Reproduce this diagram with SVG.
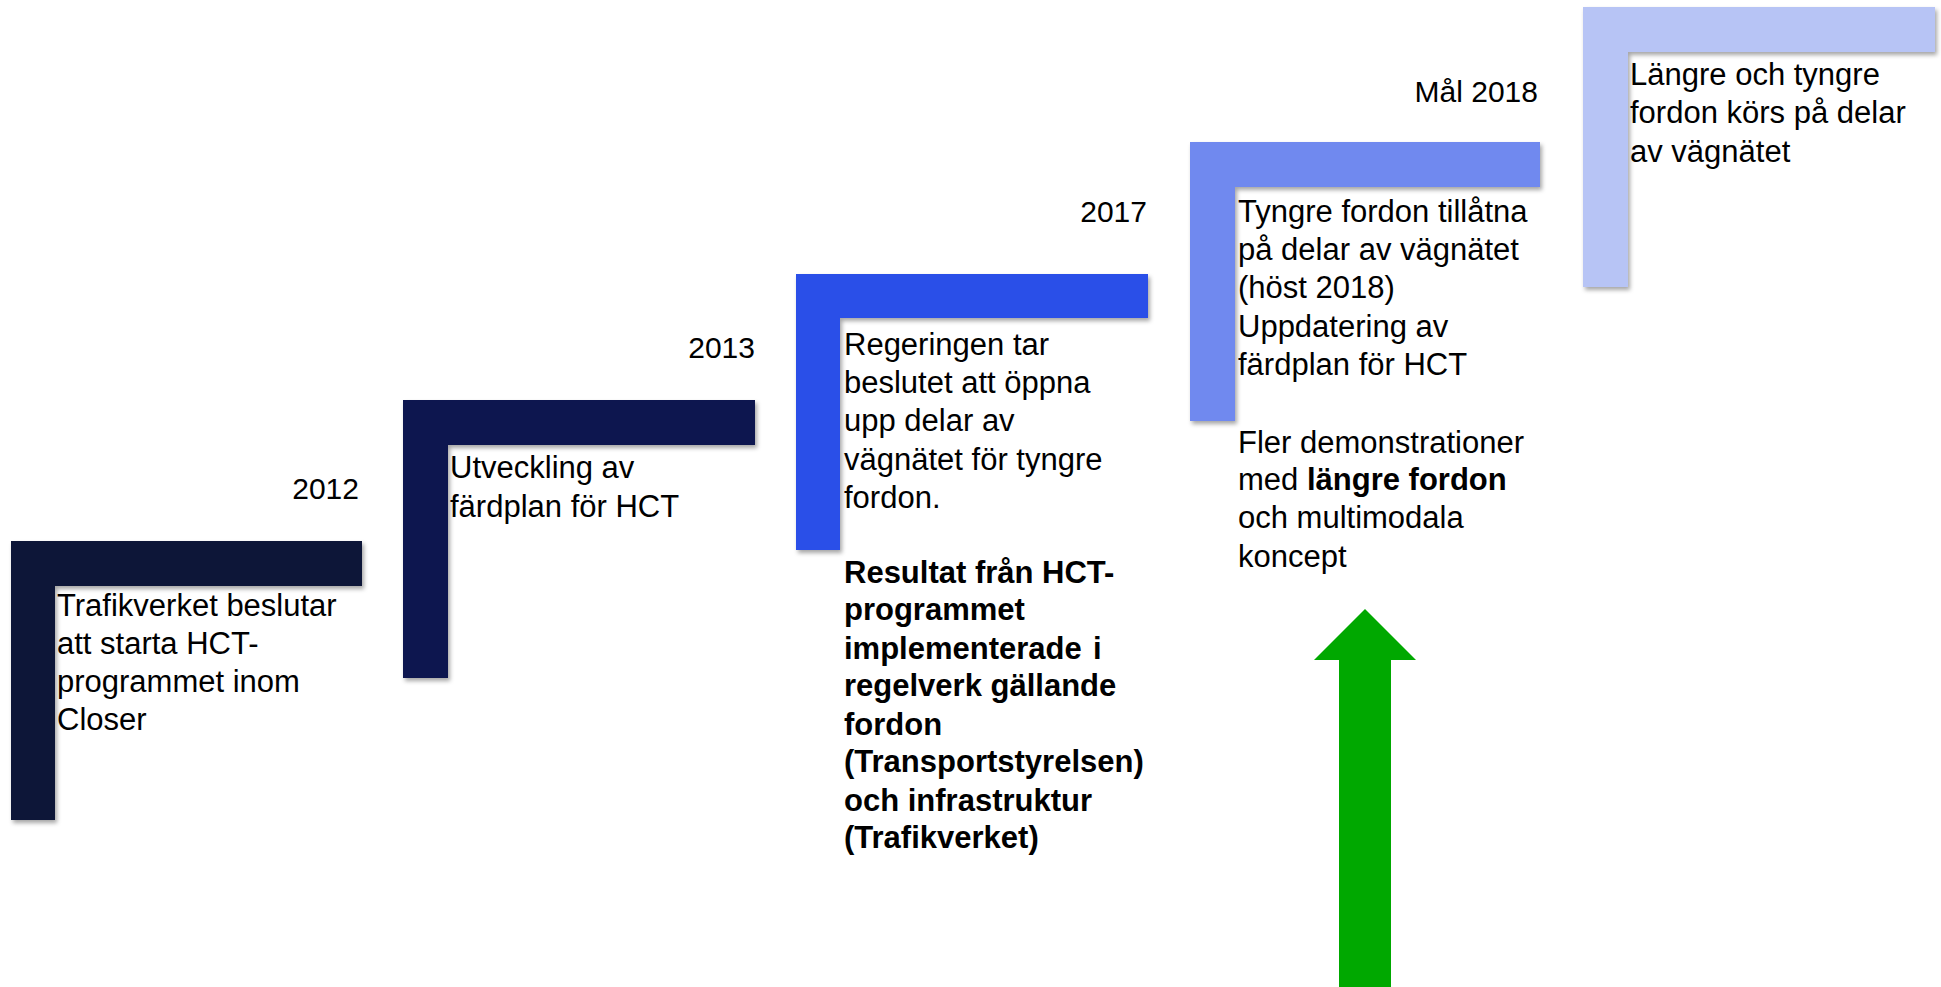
<svg xmlns="http://www.w3.org/2000/svg" width="1941" height="987" viewBox="0 0 1941 987">
<style>
text{font-family:"Liberation Sans",Arial,sans-serif;font-size:31px;fill:#000}
.yr{font-size:30px;text-anchor:end}
.b{font-weight:bold}
.step{filter:url(#sh)}
</style>
<defs>
<filter id="sh" x="-10%" y="-10%" width="130%" height="130%">
<feDropShadow dx="2" dy="3" stdDeviation="2" flood-color="#000" flood-opacity="0.35"/>
</filter>
</defs>
<rect width="1941" height="987" fill="#fff"/>
<g id="node-2012">
<path class="step" d="M11 541H362V586H55V820H11Z" fill="#0a1238"/>
<text class="yr" x="359" y="499">2012</text>
<text x="57" y="616">Trafikverket beslutar</text>
<text x="57" y="654">att starta HCT-</text>
<text x="57" y="692">programmet inom</text>
<text x="57" y="730">Closer</text>
</g>
<g id="node-2013">
<path class="step" d="M403 400H755V445H448V678H403Z" fill="#0b1850"/>
<text class="yr" x="755" y="358">2013</text>
<text x="450" y="478">Utveckling av</text>
<text x="450" y="517">färdplan för HCT</text>
</g>
<g id="node-2017">
<path class="step" d="M796 274H1148V318H840V550H796Z" fill="#2c4fe8"/>
<text class="yr" x="1147" y="222">2017</text>
<text x="844" y="355">Regeringen tar</text>
<text x="844" y="393">beslutet att öppna</text>
<text x="844" y="431">upp delar av</text>
<text x="844" y="470">vägnätet för tyngre</text>
<text x="844" y="508">fordon.</text>
<text class="b" x="844" y="583">Resultat från HCT-</text>
<text class="b" x="844" y="620">programmet</text>
<text class="b" x="844" y="659">implementerade <tspan x="1093">i</tspan></text>
<text class="b" x="844" y="696">regelverk gällande</text>
<text class="b" x="844" y="735">fordon</text>
<text class="b" x="844" y="772">(Transportstyrelsen)</text>
<text class="b" x="844" y="811">och infrastruktur</text>
<text class="b" x="844" y="848">(Trafikverket)</text>
</g>
<g id="node-2018">
<path class="step" d="M1190 142H1540V187H1235V421H1190Z" fill="#6f89ef"/>
<text class="yr" x="1538" y="102">Mål 2018</text>
<text x="1238" y="222">Tyngre fordon tillåtna</text>
<text x="1238" y="260">på delar av vägnätet</text>
<text x="1238" y="298">(höst 2018)</text>
<text x="1238" y="337">Uppdatering av</text>
<text x="1238" y="375">färdplan för HCT</text>
<text x="1238" y="453">Fler demonstrationer</text>
<text x="1238" y="490">med <tspan class="b">längre fordon</tspan></text>
<text x="1238" y="528">och multimodala</text>
<text x="1238" y="567">koncept</text>
</g>
<g id="node-goal">
<path class="step" d="M1583 7H1935V52H1628V287H1583Z" fill="#b7c4f5"/>
<text x="1630" y="85">Längre och tyngre</text>
<text x="1630" y="123">fordon körs på delar</text>
<text x="1630" y="162">av vägnätet</text>
</g>
<g id="connectors">
<polygon points="1365,609 1416,660 1391,660 1391,987 1339,987 1339,660 1314,660" fill="#00a800"/>
</g>
</svg>
